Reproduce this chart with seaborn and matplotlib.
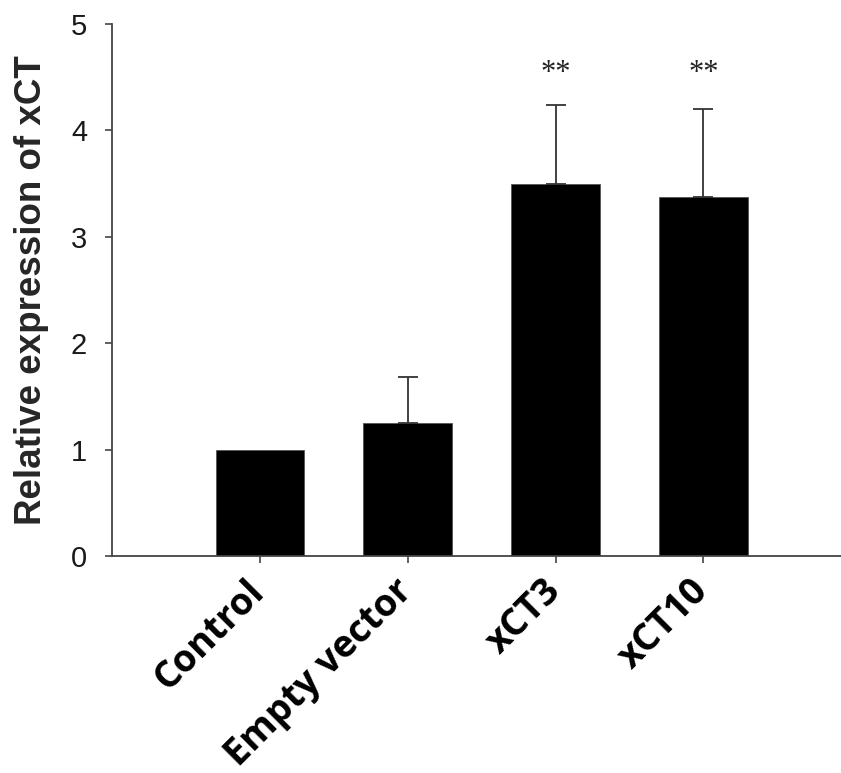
import matplotlib
matplotlib.use("Agg")
import matplotlib.pyplot as plt
import matplotlib.transforms as mtransforms
import seaborn as sns
import numpy as np
import pandas as pd

# Relative xCT expression per group (mean and upper SD)
groups = ["Control", "Empty vector", "xCT3", "xCT10"]
means = [1.00, 1.25, 3.50, 3.37]
sd_upper = [0.00, 0.43, 0.74, 0.83]
star_groups = ["xCT3", "xCT10"]
star_height = 4.53
y_ticks = [0, 1, 2, 3, 4, 5]

df = pd.DataFrame({"group": groups, "mean": means})

sns.set_style("white")
plt.rcParams["font.family"] = ["Liberation Sans", "DejaVu Sans"]

fig = plt.figure(figsize=(8.41, 7.73), dpi=100)
ax = fig.add_axes([0.1332, 0.2807, 0.8668, 0.6883])

sns.barplot(data=df, x="group", y="mean", order=groups, color="black",
            width=0.6, errorbar=None, ax=ax, saturation=1,
            edgecolor="#555555", linewidth=0.6)

x = np.arange(len(groups))
err = np.array(sd_upper)
mask = err > 0
ax.errorbar(x[mask], np.array(means)[mask],
            yerr=[np.zeros(mask.sum()), err[mask]],
            fmt="none", ecolor="#333333", elinewidth=1.3, capsize=7,
            capthick=1.3)

for g in star_groups:
    i = groups.index(g)
    ax.text(i, star_height, "**", ha="center", va="center",
            fontsize=22, family=["Liberation Serif"], color="#222222")

ax.set_xlim(-1.0, 3.93)
ax.set_ylim(0, 5)
ax.set_yticks(y_ticks)
ax.set_yticklabels([str(t) for t in y_ticks], fontsize=21, color="#1a1a1a")

# slanted category labels, their upper ends tucked just under each tick
ax.set_xticks(x)
ax.set_xticklabels([""] * len(groups))
label_offset = mtransforms.ScaledTranslation(-0.14, -0.16,
                                             fig.dpi_scale_trans)
for i, g in enumerate(groups):
    ax.text(i, 0, g, transform=ax.get_xaxis_transform() + label_offset,
            rotation=45, rotation_mode="anchor", ha="right", va="top",
            fontsize=27, fontweight="bold",
            family=["Open Sans", "DejaVu Sans"], color="black")

ax.set_xlabel("")
ax.set_ylabel("Relative expression of xCT", fontsize=26.5, fontweight="bold",
              labelpad=16)

for side in ["top", "right"]:
    ax.spines[side].set_visible(False)
for side in ["left", "bottom"]:
    ax.spines[side].set_color("#444444")
    ax.spines[side].set_linewidth(1.3)

ax.tick_params(axis="both", which="major", direction="out", length=5,
               width=1.2, color="#444444", bottom=True, left=True)
ax.tick_params(axis="y", pad=13)

fig.savefig("out.png", dpi=100)
